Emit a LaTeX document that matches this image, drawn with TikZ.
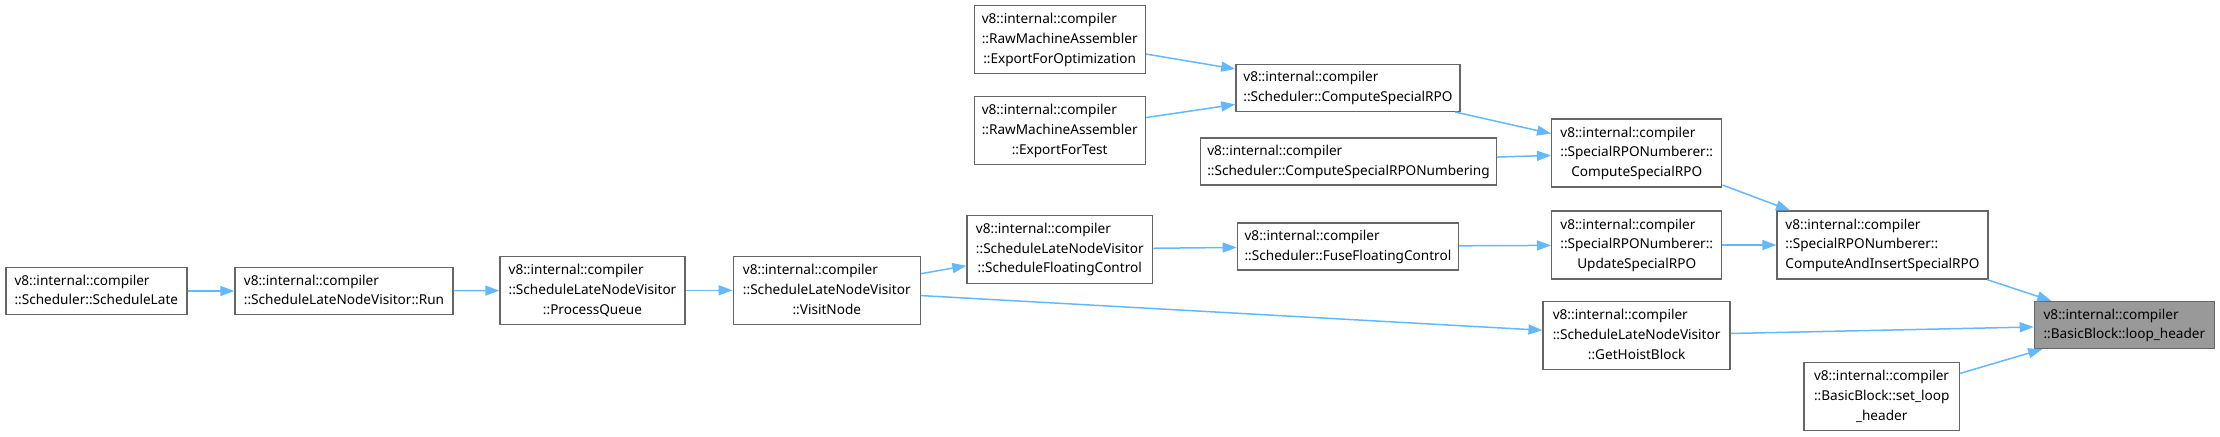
\documentclass[tikz,border=0pt]{standalone}
\usepackage{fontspec}
\setmainfont{Noto Sans}
\usepackage{xcolor}
\usetikzlibrary{arrows.meta}
\definecolor{Edge}{HTML}{63B8FF}
\definecolor{Frame}{HTML}{666666}
\definecolor{Hit}{HTML}{999999}
\newcommand{\twoln}[2]{\begin{tabular}{@{}l@{}}#1\\#2\end{tabular}}
\newcommand{\threeln}[3]{\begin{tabular}{@{}l@{}}#1\\#2\\\multicolumn{1}{@{}c@{}}{#3}\end{tabular}}

\begin{document}
\begin{tikzpicture}[x=0.5pt,y=-0.5pt,
    font=\fontsize{6.8}{9.9}\selectfont,
    fn/.style={draw=Frame,fill=white,line width=0.7pt,inner sep=0pt,
      minimum height=23.5pt},
    fn3/.style={fn,minimum height=34pt},
    call/.style={->,draw=Edge,line width=0.75pt},
    >={Triangle[length=7pt,width=5pt]}]
  \useasboundingbox (0,0) rectangle (2220,436);
  \node[fn,minimum width=90.5pt] (SL) at (96.3,291) {\twoln{v8::internal::compiler}{::Scheduler::ScheduleLate}};
  \node[fn,minimum width=109pt] (Run) at (344,291) {\twoln{v8::internal::compiler}{::ScheduleLateNodeVisitor::Run}};
  \node[fn3,minimum width=92.5pt] (PQ) at (592.5,290.3) {\threeln{v8::internal::compiler}{::ScheduleLateNodeVisitor}{::ProcessQueue}};
  \node[fn3,minimum width=93.5pt] (VN) at (826.8,290.3) {\threeln{v8::internal::compiler}{::ScheduleLateNodeVisitor}{::VisitNode}};
  \node[fn3,minimum width=92.75pt] (SFC) at (1059.8,249.2) {\threeln{v8::internal::compiler}{::ScheduleLateNodeVisitor}{::ScheduleFloatingControl}};
  \node[fn,minimum width=110.5pt] (FFC) at (1347.9,246.3) {\twoln{v8::internal::compiler}{::Scheduler::FuseFloatingControl}};
  \node[fn3,minimum width=85.5pt] (EFO) at (1059.7,39.6) {\threeln{v8::internal::compiler}{::RawMachineAssembler}{::ExportForOptimization}};
  \node[fn3,minimum width=85.5pt] (EFT) at (1059.7,130.3) {\threeln{v8::internal::compiler}{::RawMachineAssembler}{::ExportForTest}};
  \node[fn,minimum width=112pt] (CSR) at (1347.9,87.8) {\twoln{v8::internal::compiler}{::Scheduler::ComputeSpecialRPO}};
  \node[fn,minimum width=148pt] (CSRN) at (1348.5,161.4) {\twoln{v8::internal::compiler}{::Scheduler::ComputeSpecialRPONumbering}};
  \node[fn3,minimum width=85pt] (SCSR) at (1636.7,152.9) {\threeln{v8::internal::compiler}{::SpecialRPONumberer::}{ComputeSpecialRPO}};
  \node[fn3,minimum width=85pt] (USR) at (1636.7,245) {\threeln{v8::internal::compiler}{::SpecialRPONumberer::}{UpdateSpecialRPO}};
  \node[fn3,minimum width=93.5pt] (GHB) at (1636.6,335.5) {\threeln{v8::internal::compiler}{::ScheduleLateNodeVisitor}{::GetHoistBlock}};
  \node[fn3,minimum width=105.4pt] (CAI) at (1882.5,245) {\threeln{v8::internal::compiler}{::SpecialRPONumberer::}{ComputeAndInsertSpecialRPO}};
  \node[fn,fill=Hit,minimum width=90pt] (LH) at (2124.4,325) {\twoln{v8::internal::compiler}{::BasicBlock::loop\_header}};
  \node[fn3,minimum width=77.8pt] (SLH) at (1881.7,396.4) {\threeln{v8::internal::compiler}{::BasicBlock::set\_loop}{\_header}};
  % callers towards loop_header
  \draw[call] (SL) -- (Run);
  \draw[call] (Run) -- (PQ);
  \draw[call] (PQ) -- (VN);
  \draw[call] (VN) -- (SFC);
  \draw[call] (VN) -- (GHB);
  \draw[call] (SFC) -- (FFC);
  \draw[call] (FFC) -- (USR);
  \draw[call] (EFO) -- (CSR);
  \draw[call] (EFT) -- (CSR);
  \draw[call] (CSR) -- (SCSR);
  \draw[call] (CSRN) -- (SCSR);
  \draw[call] (SCSR) -- (CAI);
  \draw[call] (USR) -- (CAI);
  \draw[call] (CAI) -- (LH);
  \draw[call] (GHB) -- (LH);
  \draw[call] (SLH) -- (LH);
\end{tikzpicture}
\end{document}
